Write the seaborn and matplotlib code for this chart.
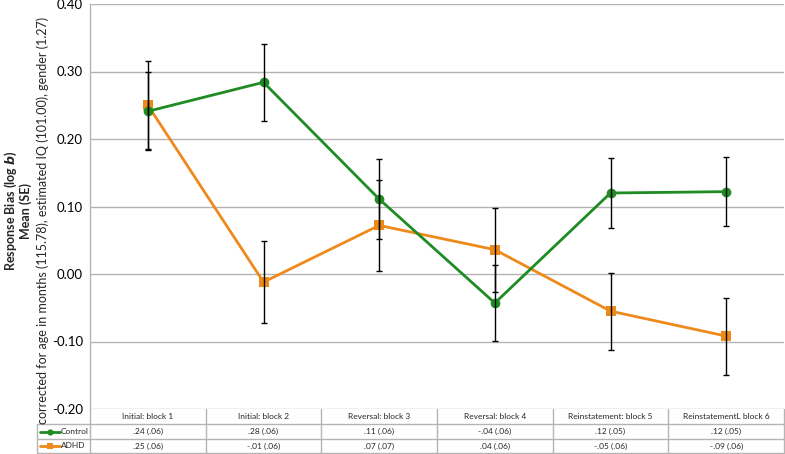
import numpy as np
import pandas as pd
import matplotlib
matplotlib.use("Agg")
import matplotlib.pyplot as plt
import seaborn as sns
from matplotlib.lines import Line2D

# ---- data ----
categories = ["Initial: block 1", "Initial: block 2", "Reversal: block 3",
              "Reversal: block 4", "Reinstatement: block 5", "ReinstatementL block 6"]
control_mean = [0.241, 0.284, 0.111, -0.043, 0.120, 0.122]
control_se = [0.058, 0.057, 0.059, 0.056, 0.052, 0.051]
adhd_mean = [0.250, -0.012, 0.072, 0.036, -0.055, -0.092]
adhd_se = [0.065, 0.061, 0.067, 0.062, 0.057, 0.057]
control_table = [".24 (.06)", ".28 (.06)", ".11 (.06)", "-.04 (.06)", ".12 (.05)", ".12 (.05)"]
adhd_table = [".25 (.06)", "-.01 (.06)", ".07 (.07)", ".04 (.06)", "-.05 (.06)", "-.09 (.06)"]
yticks = [-0.20, -0.10, 0.00, 0.10, 0.20, 0.30, 0.40]

GREEN = "#1e8c23"
ORANGE = "#ee8a1c"
GRID = "#b4b4b4"

sns.set_theme(style="white")
plt.rcParams["font.family"] = ["Lato", "DejaVu Sans"]

W, H = 785, 454
fig = plt.figure(figsize=(W / 100, H / 100), dpi=100)

def fx(p):
    return p / W

def fy(p):
    return 1 - p / H

L, R, T, B = 90, 784, 4, 409
ax = fig.add_axes([fx(L), fy(B), fx(R) - fx(L), fy(T) - fy(B)])

n = len(categories)
df = pd.DataFrame({
    "pos": list(range(n)) * 2,
    "value": control_mean + adhd_mean,
    "se": control_se + adhd_se,
    "group": ["Control"] * n + ["ADHD"] * n,
})

sns.lineplot(data=df, x="pos", y="value", hue="group", style="group",
             hue_order=["ADHD", "Control"], style_order=["ADHD", "Control"],
             palette={"Control": GREEN, "ADHD": ORANGE},
             markers={"Control": "o", "ADHD": "s"}, dashes=False,
             linewidth=2.0, markersize=7, markeredgewidth=0,
             legend=False, ax=ax, zorder=3)

for g in ["ADHD", "Control"]:
    sub = df[df.group == g]
    ax.errorbar(sub["pos"], sub["value"], yerr=sub["se"], fmt="none",
                ecolor="black", elinewidth=1.0, capsize=2.5, capthick=1.0, zorder=4)

ax.set_xlim(-0.5, n - 0.5)
ax.set_ylim(-0.20, 0.40)
ax.set_yticks(yticks)
ax.set_yticklabels([f"{v:.2f}" for v in yticks], fontsize=9.5)
ax.set_xticks([])
ax.set_xlabel("")
ax.set_ylabel("")
ax.grid(axis="y", color=GRID, linewidth=1.0)
ax.tick_params(axis="y", length=0, pad=5, colors="black")
for s in ["top", "right", "bottom"]:
    ax.spines[s].set_visible(False)
ax.spines["left"].set_color(GRID)
ax.spines["left"].set_linewidth(1.0)

# ---- y label ----
fig.text(fx(11), fy(211), r"Response Bias (log $\boldsymbol{b}$)", rotation=90,
         ha="center", va="center", fontsize=9, fontweight="bold")
fig.text(fx(26), fy(211), "Mean (SE)", rotation=90,
         ha="center", va="center", fontsize=9, fontweight="bold")
fig.text(fx(43), fy(220),
         "corrected for age in months (115.78), estimated IQ (101.00), gender (1.27)",
         rotation=90, ha="center", va="center", fontsize=9)

# ---- data table ----
fig.canvas.draw()
def colpx(x):
    return ax.transData.transform((x, 0))[0]

r0, r1, r2, r3 = 409, 424, 439, 453
tl = dict(color=GRID, linewidth=1.0, transform=fig.transFigure, clip_on=False)
left_col = 37
for py in [r1, r2, r3]:
    fig.add_artist(Line2D([fx(left_col), fx(colpx(n - 0.5))], [fy(py), fy(py)], **tl))
for i in range(n + 1):
    xp = colpx(i - 0.5)
    fig.add_artist(Line2D([fx(xp), fx(xp)], [fy(r0), fy(r3)], **tl))
fig.add_artist(Line2D([fx(left_col), fx(left_col)], [fy(r1), fy(r3)], **tl))

tfs = 6.0
for i, cat in enumerate(categories):
    cx = colpx(i)
    fig.text(fx(cx), fy((r0 + r1) / 2), cat, ha="center", va="center", fontsize=tfs)
    fig.text(fx(cx), fy((r1 + r2) / 2), control_table[i], ha="center", va="center", fontsize=tfs)
    fig.text(fx(cx), fy((r2 + r3) / 2), adhd_table[i], ha="center", va="center", fontsize=tfs)

for (label, col, mk, ya, yb) in [("Control", GREEN, "o", r1, r2), ("ADHD", ORANGE, "s", r2, r3)]:
    yc = fy((ya + yb) / 2)
    fig.add_artist(Line2D([fx(40), fx(60)], [yc, yc], color=col, linewidth=2.0,
                          transform=fig.transFigure))
    fig.add_artist(Line2D([fx(50)], [yc], color=col, marker=mk, markersize=4.5,
                          markeredgewidth=0, transform=fig.transFigure))
    fig.text(fx(61), yc, label, ha="left", va="center", fontsize=tfs)

fig.savefig("out.png", dpi=100, facecolor="white")
